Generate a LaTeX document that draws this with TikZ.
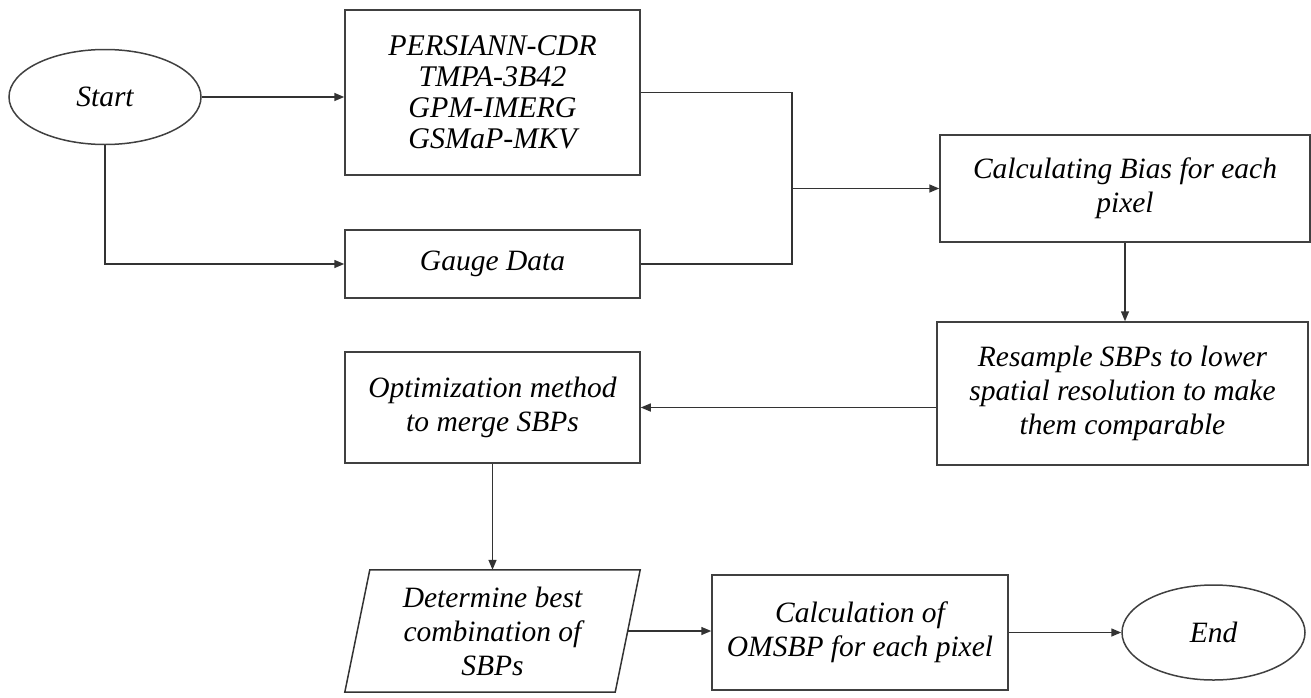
\documentclass[tikz,border=0pt]{standalone}
\usepackage{fontspec}
\setmainfont{Liberation Serif}
\usetikzlibrary{shapes.geometric,arrows.meta}
\begin{document}
\begin{tikzpicture}[x=1pt,y=-1pt,
  line/.style={draw=black!80, line width=1.5pt},
  arr/.style={line, -{Triangle[length=10pt,width=8pt]}},
  txt/.style={align=center, inner sep=0pt, font=\fontsize{29.5}{34}\selectfont\itshape},
  box/.style={txt, draw=black!75, line width=1.5pt, rectangle},
  term/.style={txt, draw=black!75, line width=1.5pt, ellipse},
]
\useasboundingbox (0,0) rectangle (1311,697);
\node[term, minimum width=192pt, minimum height=95pt] (start) at (105,97) {Start};
\node[box, minimum width=295pt, minimum height=165pt, font=\fontsize{30}{31}\selectfont\itshape] (sat) at (492.5,92.5) {PERSIANN-CDR\\TMPA-3B42\\GPM-IMERG\\GSMaP-MKV};
\node[box, minimum width=295pt, minimum height=68pt] (gauge) at (492.5,264) {Gauge Data};
\node[box, minimum width=370pt, minimum height=107pt] (bias) at (1125,188.5) {Calculating Bias for each\\pixel};
\node[box, minimum width=371pt, minimum height=143pt] (resample) at (1122.5,393.5) {Resample SBPs to lower\\spatial resolution to make\\them comparable};
\node[box, minimum width=295pt, minimum height=111pt] (optim) at (492.5,407.5) {Optimization method\\to merge SBPs};
\node[txt, minimum width=270pt, minimum height=122pt] (det) at (492.5,631) {Determine best\\combination of\\SBPs};
\draw[line] ([xshift=12.5pt]det.north west) -- ([xshift=12.5pt]det.north east) -- ([xshift=-12.5pt]det.south east) -- ([xshift=-12.5pt]det.south west) -- cycle;
\node[box, minimum width=296pt, minimum height=115pt] (calc) at (860,632.5) {Calculation of\\OMSBP for each pixel};
\node[term, minimum width=183pt, minimum height=95pt] (end) at (1213.5,632.5) {End};
\coordinate (jn) at (792,188.5);
\draw[arr] (start.east) -- (start.east -| sat.west);
\draw[arr] (start.south) |- (gauge.west);
\draw[line] (sat.east) -| (jn);
\draw[line] (gauge.east) -| (jn);
\draw[arr] (jn) -- (bias.west);
\draw[arr] (bias.south) -- (bias.south |- resample.north);
\draw[arr] (resample.west |- optim.east) -- (optim.east);
\draw[arr] (optim.south) -- (det.north);
\draw[arr] (det.east) -- (det.east -| calc.west);
\draw[arr] (calc.east) -- (end.west);
\end{tikzpicture}
\end{document}
